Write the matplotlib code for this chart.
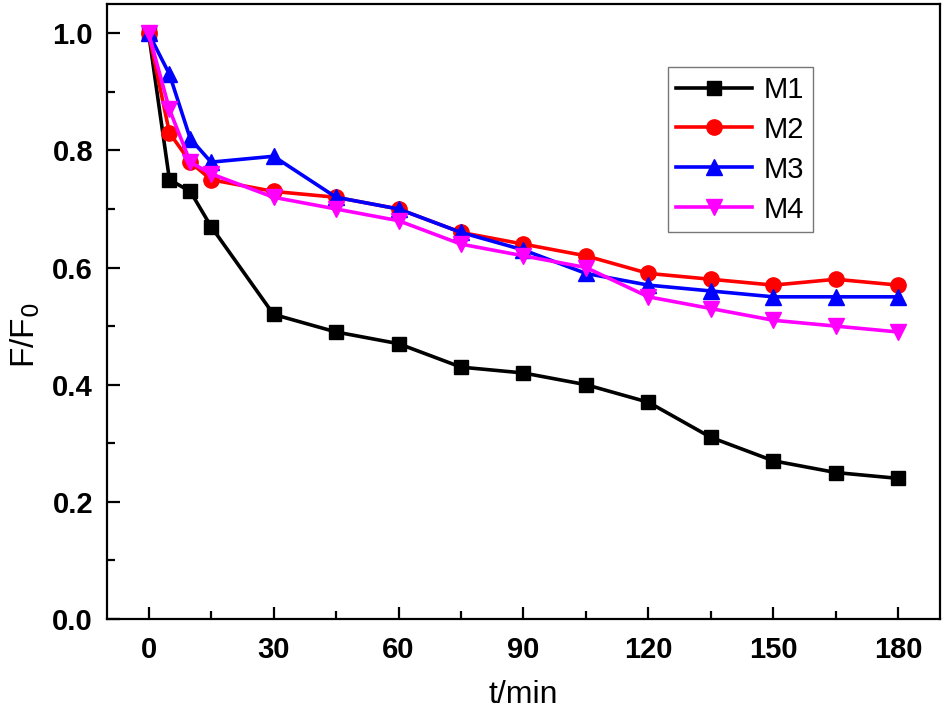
import matplotlib
matplotlib.use("Agg")
from matplotlib import pyplot
from matplotlib.ticker import MultipleLocator, FormatStrFormatter

# Fluorescence quenching data
time_min = [0, 5, 10, 15, 30, 45, 60, 75, 90, 105, 120, 135, 150, 165, 180]
m1 = [1.0, 0.75, 0.73, 0.67, 0.52, 0.49, 0.47, 0.43, 0.42, 0.40, 0.37, 0.31, 0.27, 0.25, 0.24]
m2 = [1.0, 0.83, 0.78, 0.75, 0.73, 0.72, 0.70, 0.66, 0.64, 0.62, 0.59, 0.58, 0.57, 0.58, 0.57]
m3 = [1.0, 0.93, 0.82, 0.78, 0.79, 0.72, 0.70, 0.66, 0.63, 0.59, 0.57, 0.56, 0.55, 0.55, 0.55]
m4 = [1.0, 0.87, 0.78, 0.76, 0.72, 0.70, 0.68, 0.64, 0.62, 0.60, 0.55, 0.53, 0.51, 0.50, 0.49]

series_names = ["M1", "M2", "M3", "M4"]
series_values = [m1, m2, m3, m4]
series_colours = ["#000000", "#FF0000", "#0000FF", "#FF00FF"]
series_markers = ["s", "o", "^", "v"]
marker_sizes = [10, 11, 12, 12]

pyplot.rcParams['font.family'] = ['Liberation Sans', 'DejaVu Sans']


def main():
    fig = pyplot.figure(figsize=(9.45, 7.14), dpi=100)
    ax = fig.add_axes([0.1132, 0.1331, 0.8815, 0.8613])

    for name, values, colour, marker, ms in zip(series_names, series_values,
                                                series_colours, series_markers, marker_sizes):
        ax.plot(time_min, values, color=colour, marker=marker, markersize=ms,
                linewidth=2.6, label=name, clip_on=False)

    ax.set_xlim(-10, 190)
    ax.set_ylim(0, 1.05)
    ax.xaxis.set_major_locator(MultipleLocator(30))
    ax.xaxis.set_minor_locator(MultipleLocator(15))
    ax.yaxis.set_major_locator(MultipleLocator(0.2))
    ax.yaxis.set_minor_locator(MultipleLocator(0.1))
    ax.yaxis.set_major_formatter(FormatStrFormatter('%.1f'))

    for spine in ax.spines.values():
        spine.set_linewidth(1.6)
    ax.tick_params(which='both', direction='in', width=1.6, labelsize=21)
    ax.tick_params(which='major', length=9)
    ax.tick_params(which='minor', length=6)
    ax.tick_params(axis='x', which='major', pad=12)
    ax.tick_params(axis='y', which='major', pad=10)
    for label in ax.get_xticklabels() + ax.get_yticklabels():
        label.set_fontweight('bold')

    ax.set_xlabel("t/min", fontsize=23, labelpad=12)
    ax.set_ylabel("F/F$_0$", fontsize=24)
    ax.yaxis.set_label_coords(-0.078, 0.462)

    legend = ax.legend(loc='upper left', bbox_to_anchor=(0.673, 0.8976), fontsize=21,
                       handlelength=2.6, fancybox=False, borderpad=0.3,
                       labelspacing=0.41, handletextpad=0.4, borderaxespad=0)
    legend.get_frame().set_edgecolor('#555555')
    legend.get_frame().set_linewidth(1.0)

    fig.savefig("out.png", dpi=100)


if __name__ == "__main__":
    main()
